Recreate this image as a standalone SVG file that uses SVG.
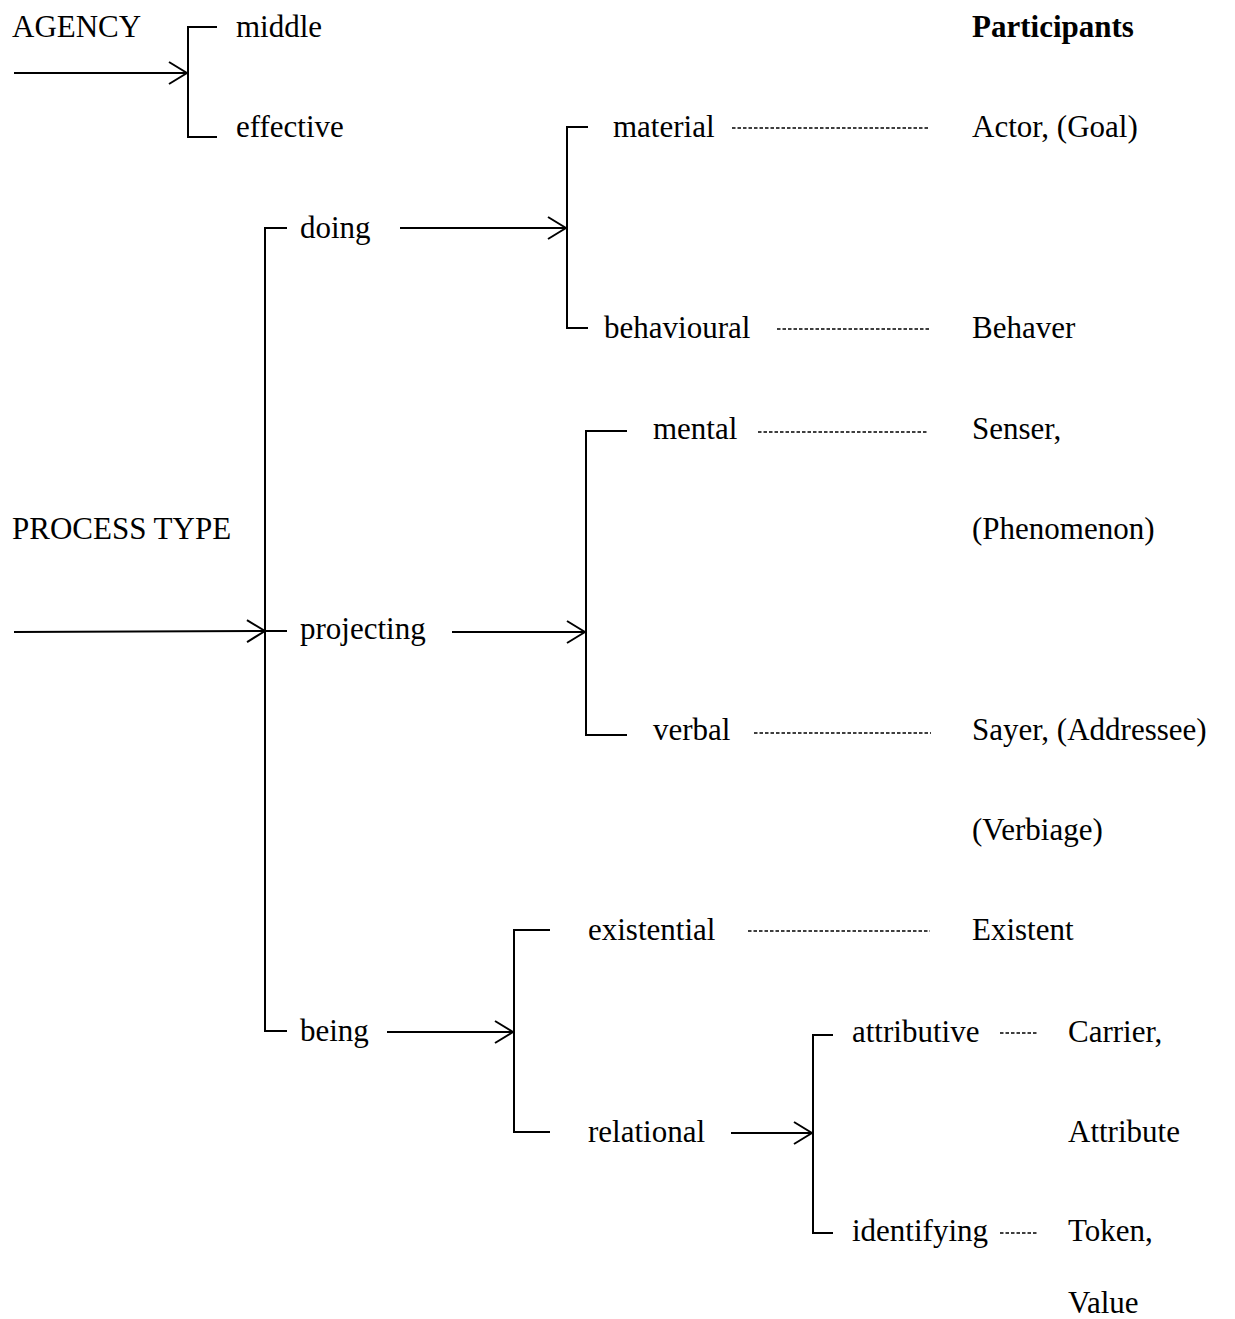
<svg xmlns="http://www.w3.org/2000/svg" width="1235" height="1319" viewBox="0 0 1235 1319">
<defs>
<style>
text{font-family:"Liberation Serif","Times New Roman",serif;font-size:31px;fill:#000}
.b{font-weight:bold}
.ln{stroke:#000;stroke-width:2;fill:none}
.dt{stroke:#000;stroke-width:1.5;fill:none;stroke-dasharray:3.5 2}
</style>
<marker id="ah" viewBox="0 0 20 24" refX="19" refY="12" markerWidth="20" markerHeight="24" markerUnits="userSpaceOnUse" orient="auto">
<path d="M1,1 L19,12 L1,23" fill="none" stroke="#000" stroke-width="2"/>
</marker>
</defs>
<rect width="1235" height="1319" fill="#fff"/>
<g id="connectors">
<line class="ln" x1="14" y1="73" x2="187" y2="73" marker-end="url(#ah)"/>
<path class="ln" d="M217,27 H188 V137 H217"/>
<line class="ln" x1="14" y1="632" x2="265" y2="631" marker-end="url(#ah)"/>
<path class="ln" d="M287,228 H265 V1031 H287"/>
<line class="ln" x1="265" y1="631" x2="287" y2="631"/>
<line class="ln" x1="400" y1="228" x2="566" y2="228" marker-end="url(#ah)"/>
<path class="ln" d="M588,127 H567 V328 H588"/>
<line class="ln" x1="452" y1="632" x2="585" y2="632" marker-end="url(#ah)"/>
<path class="ln" d="M627,431 H586 V735 H627"/>
<line class="ln" x1="387" y1="1032" x2="513" y2="1032" marker-end="url(#ah)"/>
<path class="ln" d="M550,930 H514 V1132 H550"/>
<line class="ln" x1="731" y1="1133" x2="812" y2="1133" marker-end="url(#ah)"/>
<path class="ln" d="M833,1035 H813 V1233 H833"/>
<line class="dt" x1="732" y1="128" x2="930" y2="128"/>
<line class="dt" x1="777" y1="329" x2="930" y2="329"/>
<line class="dt" x1="758" y1="432" x2="928" y2="432"/>
<line class="dt" x1="754" y1="733" x2="931" y2="733"/>
<line class="dt" x1="748" y1="931" x2="930" y2="931"/>
<line class="dt" x1="1000" y1="1033" x2="1037" y2="1033"/>
<line class="dt" x1="1000" y1="1233" x2="1037" y2="1233"/>
</g>
<g id="agency"><text x="12" y="37">AGENCY</text></g>
<g id="middle"><text x="236" y="37">middle</text></g>
<g id="effective"><text x="236" y="137">effective</text></g>
<g id="participants"><text class="b" x="972" y="37">Participants</text></g>
<g id="process-type"><text x="12" y="539">PROCESS TYPE</text></g>
<g id="doing"><text x="300" y="238">doing</text></g>
<g id="projecting"><text x="300" y="639">projecting</text></g>
<g id="being"><text x="300" y="1041">being</text></g>
<g id="material"><text x="613" y="137">material</text></g>
<g id="behavioural"><text x="604" y="338">behavioural</text></g>
<g id="mental"><text x="653" y="439">mental</text></g>
<g id="verbal"><text x="653" y="740">verbal</text></g>
<g id="existential"><text x="588" y="940">existential</text></g>
<g id="relational"><text x="588" y="1142">relational</text></g>
<g id="attributive"><text x="852" y="1042">attributive</text></g>
<g id="identifying"><text x="852" y="1241">identifying</text></g>
<g id="p-material"><text x="972" y="137">Actor, (Goal)</text></g>
<g id="p-behavioural"><text x="972" y="338">Behaver</text></g>
<g id="p-mental"><text x="972" y="439">Senser,</text><text x="972" y="539">(Phenomenon)</text></g>
<g id="p-verbal"><text x="972" y="740">Sayer, (Addressee)</text><text x="972" y="840">(Verbiage)</text></g>
<g id="p-existential"><text x="972" y="940">Existent</text></g>
<g id="p-attributive"><text x="1068" y="1042">Carrier,</text><text x="1068" y="1142">Attribute</text></g>
<g id="p-identifying"><text x="1068" y="1241">Token,</text><text x="1068" y="1313">Value</text></g>
</svg>
